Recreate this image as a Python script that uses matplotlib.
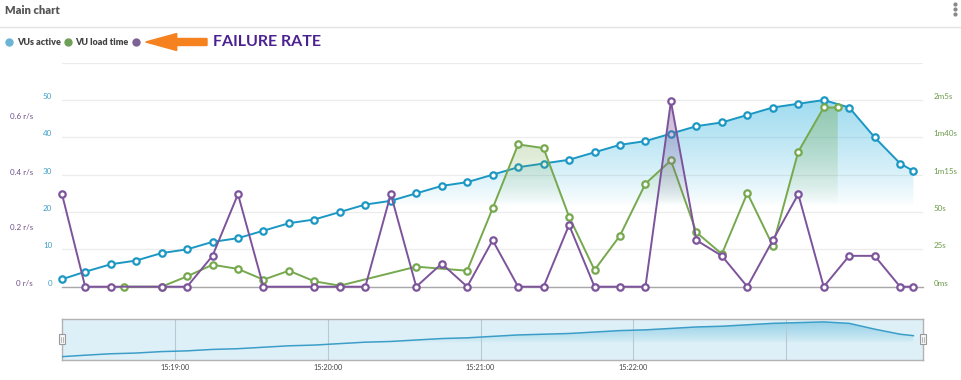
import numpy as np
import matplotlib.pyplot as plt
from matplotlib.patches import Polygon, FancyArrow, Rectangle
from matplotlib.lines import Line2D

plt.rcParams['font.family'] = ['Lato', 'DejaVu Sans']

# seconds after 15:18:00
vu_time = [15.6, 24.7, 34.7, 44.7, 54.7, 64.7, 74.7, 84.7, 94.7, 104.7, 114.7, 124.7,
           134.7, 144.7, 154.7, 164.7, 174.7, 184.7, 194.7, 204.7, 214.7, 224.7, 234.7,
           244.7, 254.7, 264.7, 274.7, 284.7, 294.7, 304.7, 314.7, 324.7, 334.7, 344.7, 349.9]
vus_active = [2, 4, 6, 7, 9, 10, 12, 13, 15, 17, 18, 20, 22, 23, 25, 27, 28, 30, 32, 33, 34,
              36, 38, 39, 41, 43, 44, 46, 48, 49, 50, 48, 40, 33, 31]

load_time = [39.8, 54.7, 64.7, 74.7, 84.7, 94.7, 104.7, 114.7, 124.7, 154.7, 174.7, 184.7,
             194.7, 204.7, 214.7, 224.7, 234.7, 244.7, 254.7, 264.7, 274.7, 284.7, 294.7,
             304.7, 314.7, 320.2]
load_secs = [0, 0, 6.9, 14.7, 11.9, 4.7, 10.7, 3.6, 0.7, 13.4, 10.7, 52.5, 95.3, 92.8, 46.9,
             11.2, 34.2, 69, 84.6, 36.4, 21.9, 62.7, 27.5, 90.4, 120, 120]

fail_time = [15.6, 24.7, 34.7, 54.7, 64.7, 74.7, 84.7, 94.7, 114.7, 124.7, 134.7, 144.7,
             154.7, 164.7, 174.7, 184.7, 194.7, 204.7, 214.7, 224.7, 234.7, 244.7, 254.7,
             264.7, 274.7, 284.7, 294.7, 304.7, 314.7, 324.7, 334.7, 344.7, 349.9]
fail_rate = [0.333, 0, 0, 0, 0, 0.111, 0.333, 0, 0, 0, 0, 0.333, 0, 0.083, 0, 0.167, 0, 0,
             0.222, 0, 0, 0, 0.667, 0.167, 0.111, 0, 0.167, 0.333, 0, 0.111, 0.111, 0, 0]

x_ticks = [30, 60, 90, 120, 150, 180, 210, 240, 270, 300, 330]
vu_ticks = [0, 10, 20, 30, 40, 50, 60]
vu_labels = ['0', '10', '20', '30', '40', '50', '']
load_ticks = [0, 25, 50, 75, 100, 125]
load_labels = ['0ms', '25s', '50s', '1m15s', '1m40s', '2m5s']
fail_ticks = [0, 0.2, 0.4, 0.6]
fail_labels = ['0 r/s', '0.2 r/s', '0.4 r/s', '0.6 r/s']
nav_ticks = [60, 120, 180, 240, 300]
nav_labels = ['15:19:00', '15:20:00', '15:21:00', '15:22:00', '']

BLUE = '#1b97c4'
GREEN = '#76a84e'
PURPLE = '#7d539b'
W, H = 962, 380


def clock(s):
    s = int(round(s))
    return '15:%02d:%02d' % (18 + s // 60, s % 60)


def fpos(x, y):
    return x / W, 1 - y / H


def grad_fill(ax, xs, ys, rgb, amax, f0, f1, base=0):
    verts = [(xs[0], base)] + list(zip(xs, ys)) + [(xs[-1], base)]
    poly = Polygon(verts, closed=True, fc='none', ec='none', transform=ax.transData)
    ax.add_patch(poly)
    f = np.linspace(0, 1, 400)
    img = np.zeros((400, 1, 4))
    img[:, 0, :3] = rgb
    img[:, 0, 3] = np.clip((f - f0) / (f1 - f0), 0, 1) ** 0.8 * amax
    im = ax.imshow(img, extent=[0, 1, 0, 1], transform=ax.transAxes, origin='lower',
                   aspect='auto', interpolation='bilinear', zorder=1)
    im.set_clip_path(poly)


fig = plt.figure(figsize=(W / 100, H / 100), dpi=100)

# main chart area
l, b = fpos(62, 286.7)
r, t = fpos(923.3, 62.7)
ax = fig.add_axes([l, b, r - l, t - b])
gx = ax.twinx()
px = ax.twinx()

grad_fill(ax, vu_time, vus_active, (0.25, 0.72, 0.88), 0.5, 0.36, 0.84)
grad_fill(gx, load_time, load_secs, (0.45, 0.66, 0.30), 0.38, 0.37, 0.80)
grad_fill(px, fail_time, fail_rate, (0.50, 0.33, 0.62), 0.42, 0.37, 0.80)

mk = dict(marker='o', ms=4.6, mfc='white', mew=1.6, lw=1.4, clip_on=False, zorder=3)
ax.plot(vu_time, vus_active, color=BLUE, mec=BLUE, **mk)
gx.plot(load_time, load_secs, color=GREEN, mec=GREEN, **mk)
px.plot(fail_time, fail_rate, color=PURPLE, mec=PURPLE, **mk)

for a in (ax, gx, px):
    a.set_xlim(15.6, 353.8)
    for s in a.spines.values():
        s.set_visible(False)
ax.set_ylim(0, 60)
gx.set_ylim(0, 150)
px.set_ylim(0, 0.806)

ax.spines['bottom'].set_visible(True)
ax.spines['bottom'].set_color('#a8a8a8')
ax.spines['bottom'].set_linewidth(1)

ax.set_xticks(x_ticks)
ax.set_xticklabels([clock(v) for v in x_ticks])
ax.tick_params(axis='x', length=0, pad=4, labelsize=5.2, labelcolor='#555555')

ax.set_yticks(vu_ticks)
ax.set_yticklabels(vu_labels)
ax.grid(axis='y', color='#ececec', lw=0.9)
ax.set_axisbelow(True)
ax.tick_params(axis='y', length=0, pad=7, labelsize=5.8, labelcolor='#3f9fc7')

gx.set_yticks(load_ticks)
gx.set_yticklabels(load_labels)
gx.tick_params(axis='y', length=0, pad=7.5, labelsize=5.8, labelcolor='#6c9b4c')

px.yaxis.tick_left()
px.set_yticks(fail_ticks)
px.set_yticklabels(fail_labels)
px.tick_params(axis='y', length=0, pad=21, labelsize=5.8, labelcolor='#6e4f88')
px.set_xticks([])

for a in (ax, gx, px):
    for lbl in a.get_yticklabels():
        lbl.set_va('bottom')

# navigator
l2, b2 = fpos(61.7, 360.3)
r2, t2 = fpos(923.3, 319)
nav = fig.add_axes([l2, b2, r2 - l2, t2 - b2], facecolor='#def0f7')
grad_fill(nav, vu_time, vus_active, (0.35, 0.72, 0.86), 0.55, 0.40, 0.93, base=-3)
nav.plot(vu_time, vus_active, color='#3c9ec8', lw=1.1, zorder=3)
nav.set_xlim(15.6, 353.8)
nav.set_ylim(-3, 54)
nav.set_yticks([])
nav.set_xticks(nav_ticks)
nav.set_xticklabels(nav_labels)
nav.grid(axis='x', color='#b9c8d6', lw=0.8)
nav.tick_params(axis='x', length=0, pad=2.5, labelsize=5.2, labelcolor='#444444')
for s in nav.spines.values():
    s.set_color('#b2b2b2')
    s.set_linewidth(1)

for hx in (61.7, 923.3):
    x0, y0 = fpos(hx - 3, 344)
    w = 6 / W
    h = 10 / H
    fig.add_artist(Rectangle((x0, y0), w, h, transform=fig.transFigure,
                             fc='#f7f7f7', ec='#999999', lw=0.8, zorder=10))
    for dx in (-1, 1):
        xa, ya = fpos(hx + dx, 336.5)
        xb, yb = fpos(hx + dx, 341.5)
        fig.add_artist(Line2D([xa, xb], [ya, yb], color='#999999', lw=0.5,
                              transform=fig.transFigure, zorder=11))

# header
fig.text(*fpos(5, 10), 'Main chart', fontsize=8, fontweight='heavy', color='#555555',
         va='center', ha='left')
ya = fpos(0, 27)[1]
fig.add_artist(Line2D([0, 1], [ya, ya], color='#e3e3e3', lw=1, transform=fig.transFigure))
dx, _ = fpos(955, 0)
fig.add_artist(Line2D([dx] * 3, [fpos(0, yy)[1] for yy in (4, 9, 14)], ls='', marker='o',
                      ms=2, color='#888888', transform=fig.transFigure))

# legend
legend_items = [('VUs active', '#6bb4d6', 9, 17), ('VU load time', '#6e9f57', 68, 75.5),
                ('', '#7d6295', 136.3, None)]
for name, col, cx, tx in legend_items:
    fig.add_artist(Line2D([fpos(cx, 0)[0]], [fpos(0, 42.3)[1]], ls='', marker='o', ms=5,
                          color=col, transform=fig.transFigure))
    if tx is not None:
        fig.text(*fpos(tx, 42.3), name, fontsize=6.5, fontweight='heavy', color='#444444',
                 va='center', ha='left')

x1, y1 = fpos(207, 42)
x2, _ = fpos(145.7, 42)
fig.add_artist(FancyArrow(x1, y1, x2 - x1, 0, width=7 / H, head_width=17 / H,
                          head_length=31 / W, length_includes_head=True, color='#f5821f',
                          transform=fig.transFigure))
fig.text(*fpos(213, 42), 'FAILURE RATE', fontsize=11.5, fontweight='bold', color='#4b2192',
         va='center', ha='left')

fig.savefig('out.png', dpi=100, facecolor='white')
